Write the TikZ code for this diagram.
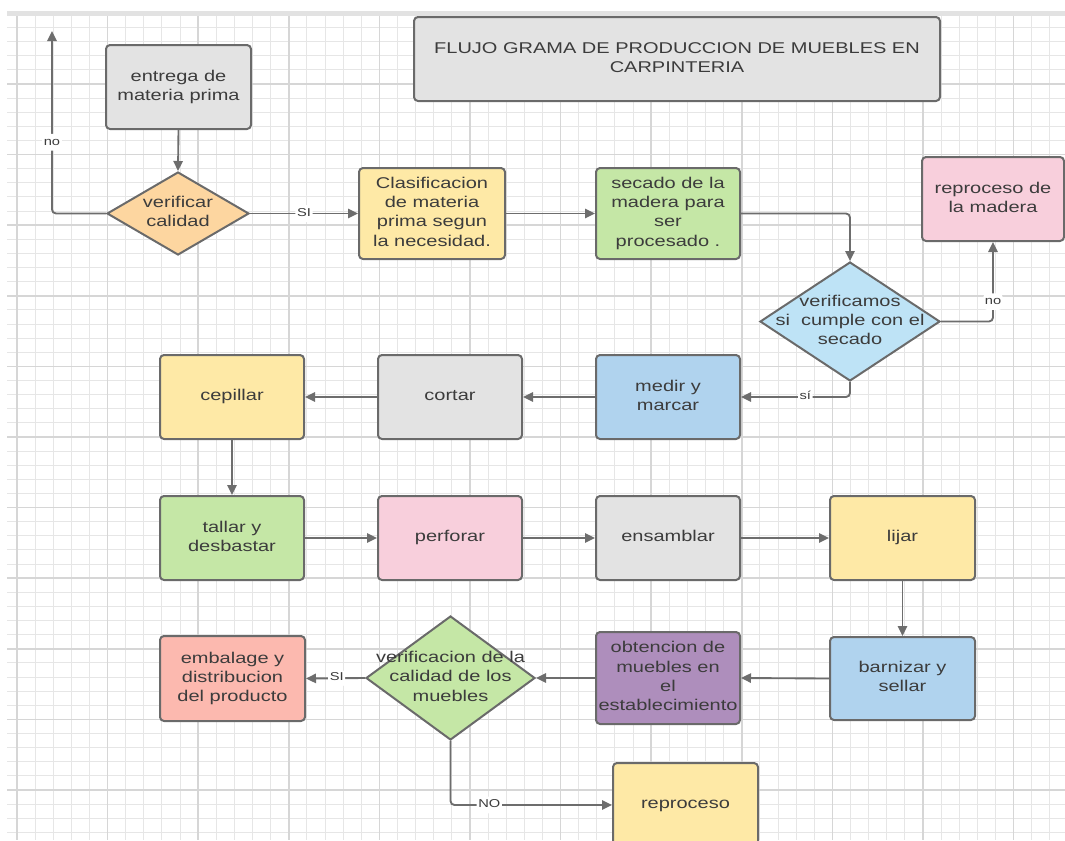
\documentclass[tikz,border=0pt]{standalone}
\usepackage{fontspec}
\setmainfont{Liberation Sans}
\usepackage{graphicx}
\usetikzlibrary{shapes.geometric,arrows.meta}

\definecolor{edgegray}{HTML}{6A6A6A}
\definecolor{arrgray}{HTML}{6D6D6D}
\definecolor{txtgray}{HTML}{3C3C3C}
\definecolor{gridminor}{HTML}{E6E6E6}
\definecolor{gridmajor}{HTML}{D6D6D6}
\definecolor{topband}{HTML}{E2E2E2}
\definecolor{fgray}{HTML}{E3E3E3}
\definecolor{forange}{HTML}{FDD6A0}
\definecolor{fyellow}{HTML}{FEE9A6}
\definecolor{fgreen}{HTML}{C5E7A6}
\definecolor{fpink}{HTML}{F8CFDC}
\definecolor{flightblue}{HTML}{BEE3F6}
\definecolor{fblue}{HTML}{B0D3EE}
\definecolor{fpurple}{HTML}{AE8EBC}
\definecolor{fsalmon}{HTML}{FCB9AF}

% text squeezed vertically, lines centred
\newcommand{\sqz}[1]{\scalebox{1}[0.78]{\begin{tabular}{@{}c@{}}#1\end{tabular}}}

\tikzset{
  sz/.style 2 args={minimum width=#1*0.75pt, minimum height=#2*0.75pt},
  box/.style={draw=edgegray, line width=1.5pt, rounded corners=3pt,
    inner sep=0pt, text=txtgray, font=\fontsize{15}{18.5}\selectfont},
  dia/.style={diamond, draw=edgegray, line width=1.5pt, inner sep=0pt},
  diatext/.style={inner sep=0pt, text=txtgray, font=\fontsize{15}{18.5}\selectfont},
  flow/.style={draw=arrgray, line width=1.4pt, rounded corners=3pt,
    -{Triangle[length=7.5pt,width=7pt]}},
  lbl/.style={fill=white, inner sep=1.2pt, text=txtgray,
    font=\fontsize{11}{13}\selectfont},
}

\begin{document}
\begin{tikzpicture}[x=0.75pt,y=-0.75pt]
\useasboundingbox (0,0) rectangle (1065,840);

% background grid
\fill[topband] (7,11) rectangle (1065,16);
\begin{scope}
  \clip (7,16) rectangle (1065,840);
  \foreach \i in {0,...,58}
    \draw[gridminor, line width=0.75pt] ({17+18.12*\i},16) -- ({17+18.12*\i},840);
  \foreach \j in {-4,...,53}
    \draw[gridminor, line width=0.75pt] (7,{84+14.12*\j}) -- (1065,{84+14.12*\j});
  \foreach \i in {0,...,11}
    \draw[gridmajor, line width=1.3pt] ({17+90.6*\i},16) -- ({17+90.6*\i},840);
  \foreach \j in {0,...,10}
    \draw[gridmajor, line width=1.3pt] (7,{84+70.6*\j}) -- (1065,{84+70.6*\j});
\end{scope}

% title
\node[box, fill=fgray, sz={526}{84}] (title) at (677,59)
  {\sqz{FLUJO GRAMA DE PRODUCCION DE MUEBLES EN\\CARPINTERIA}};

% process boxes
\node[box, fill=fgray, sz={145}{84}] (e1) at (178.5,87) {\sqz{entrega de\\materia prima}};
\node[box, fill=fyellow, sz={146}{91}] (c1) at (432,213.5)
  {\sqz{Clasificacion\\de materia\\prima segun\\la necesidad.}};
\node[box, fill=fgreen, sz={144}{91}] (s1) at (668,213.5)
  {\sqz{secado de la\\madera para\\ser\\procesado .}};
\node[box, fill=fpink, sz={142}{84}] (r1) at (993,199) {\sqz{reproceso de\\la madera}};
\node[box, fill=fblue, sz={144}{84}] (m1) at (668,397) {\sqz{medir y\\marcar}};
\node[box, fill=fgray, sz={144}{84}] (co) at (450,397) {\sqz{cortar}};
\node[box, fill=fyellow, sz={144}{84}] (ce) at (232,397) {\sqz{cepillar}};
\node[box, fill=fgreen, sz={144}{84}] (ta) at (232,538) {\sqz{tallar y\\desbastar}};
\node[box, fill=fpink, sz={144}{84}] (pe) at (450,538) {\sqz{perforar}};
\node[box, fill=fgray, sz={144}{84}] (en) at (668,538) {\sqz{ensamblar}};
\node[box, fill=fyellow, sz={145}{84}] (li) at (902.5,538) {\sqz{lijar}};
\node[box, fill=fblue, sz={145}{83}] (ba) at (902.5,678.5) {\sqz{barnizar y\\sellar}};
\node[box, fill=fpurple, sz={144}{92}] (ob) at (668,678)
  {\sqz{obtencion de\\muebles en\\el\\establecimiento}};
\node[box, fill=fsalmon, sz={145}{85}] (em) at (232.5,678.5)
  {\sqz{embalage y\\distribucion\\del producto}};
\node[box, fill=fyellow, sz={145}{84}] (rp) at (685.5,805) {\sqz{reproceso}};

% decisions
\node[dia, fill=forange, sz={142}{83}] (d1) at (178,213.5) {};
\node[diatext] (d1t) at (d1.center) {\sqz{verificar\\calidad}};
\node[dia, fill=flightblue, sz={180}{119}] (d2) at (850,321.5) {};
\node[diatext] (d2t) at (d2.center) {\sqz{verificamos\\si\ \ cumple con el\\secado}};
\node[dia, fill=fgreen, sz={169}{124}] (d3) at (450.5,678) {};
\node[diatext] (d3t) at (d3.center) {\sqz{verificacion de la\\calidad de los\\muebles}};

% loose end of the rejection arrow
\coordinate (noend) at (52,31);

% connectors
\draw[flow] (e1.south) -- (d1.north);
\draw[flow] (d1.west) -| node[lbl, pos=0.695] (l1) {\sqz{no}} (noend);
\draw[flow] (d1.east) -- node[lbl, pos=0.5] (l2) {\sqz{SI}} (c1.west);
\draw[flow] (c1.east) -- (s1.west);
\draw[flow] (s1.east) -| (d2.north);
\draw[flow] (d2.east) -| node[lbl, pos=0.625] (l3) {\sqz{no}} (r1.south);
\draw[flow] (d2.south) |- node[lbl, pos=0.705] (l4) {\sqz{sí}} (m1.east);
\draw[flow] (m1.west) -- (co.east);
\draw[flow] (co.west) -- (ce.east);
\draw[flow] (ce.south) -- (ta.north);
\draw[flow] (ta.east) -- (pe.west);
\draw[flow] (pe.east) -- (en.west);
\draw[flow] (en.east) -- (li.west);
\draw[flow] (li.south) -- (ba.north);
\draw[flow] (ba.west) -- (ob.east);
\draw[flow] (ob.west) -- (d3.east);
\draw[flow] (d3.west) -- node[lbl, pos=0.48] (l5) {\sqz{SI}} (em.east);
\draw[flow] (d3.south) |- node[lbl, pos=0.62] (l6) {\sqz{NO}} (rp.west);

\end{tikzpicture}
\end{document}
